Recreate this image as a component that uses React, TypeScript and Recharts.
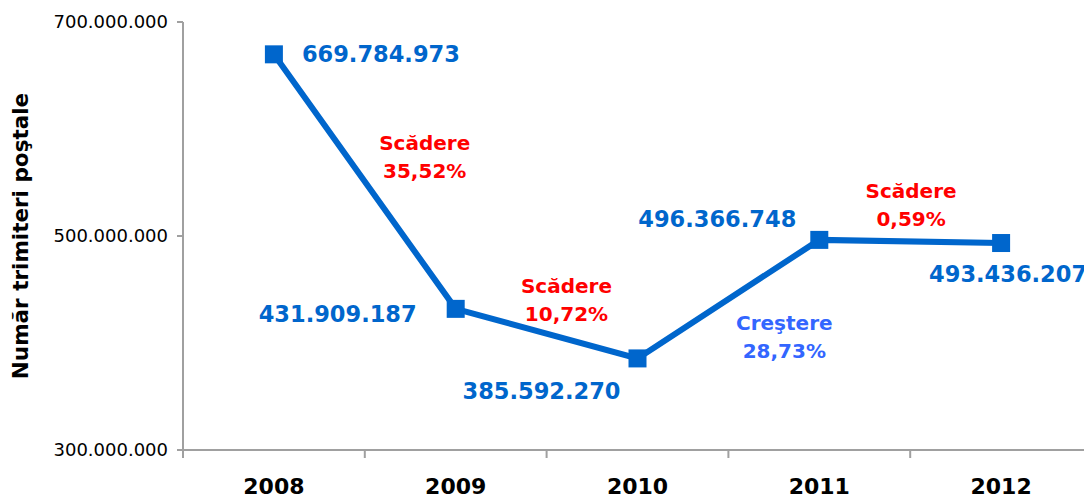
import React from 'react';
import { LineChart, Line, XAxis, YAxis, LabelList } from 'recharts';

const years = ['2008', '2009', '2010', '2011', '2012'];
const values = [669784973, 431909187, 385592270, 496366748, 493436207];
const changeWords = ['', 'Scădere', 'Scădere', 'Creştere', 'Scădere'];
const changePercents = ['', '35,52%', '10,72%', '28,73%', '0,59%'];
const yTicks = [300000000, 500000000, 700000000];
const boundaryTicks = [-0.5, 0.5, 1.5, 2.5, 3.5, 4.5];
const centerTicks = [0, 1, 2, 3, 4];

const data = years.map((year, i) => ({ x: i, year, value: values[i] }));

// label placement (styling), relative to each point
const valueOffsets = [[107, 0], [-118, 5], [-96, 33], [-102, -21], [7, 31]];
const changeOffsets = [[0, 0], [-31, -152], [-71, -58], [-35, 97], [-90, -38]];
const changeColors = ['', '#FF0000', '#FF0000', '#3366FF', '#FF0000'];

const FONT = '"DejaVu Sans", Verdana, sans-serif';
const BLUE = '#0066CC';

const fmt = (n: number) => String(n).replace(/\B(?=(\d{3})+(?!\d))/g, '.');

const ValueLabel = (props: any) => {
  const { x, y, index } = props;
  const [dx, dy] = valueOffsets[index];
  return (
    <text x={x + dx} y={y + dy} textAnchor="middle" dominantBaseline="central"
      fill={BLUE} fontFamily={FONT} fontWeight="bold" fontSize={22.5}>
      {fmt(values[index])}
    </text>
  );
};

const ChangeLabel = (props: any) => {
  const { x, y, index } = props;
  if (!changeWords[index]) return null;
  const [dx, dy] = changeOffsets[index];
  return (
    <text textAnchor="middle" dominantBaseline="central" fill={changeColors[index]}
      fontFamily={FONT} fontWeight="bold" fontSize={20}>
      <tspan x={x + dx} y={y + dy - 14}>{changeWords[index]}</tspan>
      <tspan x={x + dx} y={y + dy + 14}>{changePercents[index]}</tspan>
    </text>
  );
};

const SquareDot = (props: any) => {
  const { cx, cy, index } = props;
  return <rect key={`d${index}`} x={cx - 9} y={cy - 9} width={18} height={18} fill={BLUE} />;
};

export default function App() {
  return (
    <LineChart width={1084} height={491} data={data}
      margin={{ top: 14, right: 0, bottom: 0, left: 0 }}>
      <XAxis xAxisId={0} dataKey="x" type="number" domain={[-0.5, 4.5]} ticks={boundaryTicks}
        tickFormatter={() => ''} stroke="#A0A0A0" strokeWidth={2} tickSize={8} height={10} />
      <XAxis xAxisId="labels" dataKey="x" type="number" domain={[-0.5, 4.5]} ticks={centerTicks}
        tickFormatter={(v: number) => years[v]} axisLine={false} tickLine={false} height={39}
        tickMargin={12}
        tick={{ fill: '#000', fontFamily: FONT, fontWeight: 'bold', fontSize: 22 }} />
      <YAxis type="number" domain={[300000000, 700000000]} ticks={yTicks} width={175}
        tickFormatter={fmt} stroke="#A0A0A0" strokeWidth={2} tickSize={6} tickMargin={9}
        tick={{ fill: '#000', fontFamily: FONT, fontSize: 18 }}
        label={{ value: 'Număr trimiteri poştale', angle: -90, position: 'insideLeft', offset: 12,
          style: { textAnchor: 'middle', fill: '#000', fontFamily: FONT, fontWeight: 'bold', fontSize: 21.5 } }} />
      <Line xAxisId={0} dataKey="value" stroke={BLUE} strokeWidth={6} isAnimationActive={false}
        dot={SquareDot} activeDot={false}>
        <LabelList dataKey="value" content={ValueLabel} />
        <LabelList dataKey="value" content={ChangeLabel} />
      </Line>
    </LineChart>
  );
}
